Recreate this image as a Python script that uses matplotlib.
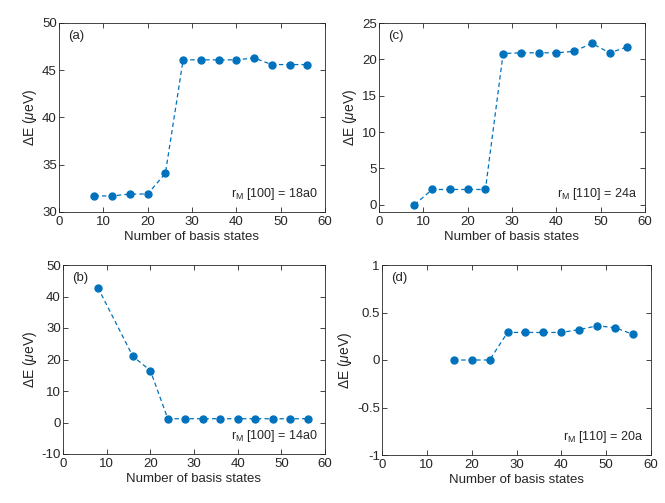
import matplotlib.pyplot as plt

plt.rcParams['font.family'] = ['Liberation Sans', 'DejaVu Sans']
plt.rcParams['mathtext.fontset'] = 'custom'
plt.rcParams['mathtext.rm'] = 'Liberation Sans'
plt.rcParams['mathtext.it'] = 'Liberation Sans:italic'

# basis-state counts and energy splittings for each panel
x_a = [8, 12, 16, 20, 24, 28, 32, 36, 40, 44, 48, 52, 56]
y_a = [31.7, 31.7, 31.9, 31.9, 34.1, 46.1, 46.1, 46.1, 46.1, 46.3, 45.6, 45.6, 45.6]

x_c = [8, 12, 16, 20, 24, 28, 32, 36, 40, 44, 48, 52, 56]
y_c = [0.0, 2.1, 2.1, 2.1, 2.1, 20.8, 20.9, 20.9, 20.9, 21.1, 22.2, 20.9, 21.7]

x_b = [8, 16, 20, 24, 28, 32, 36, 40, 44, 48, 52, 56]
y_b = [42.8, 21.0, 16.5, 1.2, 1.2, 1.2, 1.2, 1.2, 1.2, 1.2, 1.2, 1.2]

x_d = [16, 20, 24, 28, 32, 36, 40, 44, 48, 52, 56]
y_d = [0.0, 0.0, 0.0, 0.29, 0.29, 0.29, 0.29, 0.32, 0.36, 0.34, 0.27]

W, H = 665, 503
fig = plt.figure(figsize=(W / 100, H / 100), dpi=100)

def box(l, t, r, b):
    return [l / W, 1 - b / H, (r - l) / W, (b - t) / H]

panels = [
    (box(59, 23, 325, 212), x_a, y_a, (30, 50), [30, 35, 40, 45, 50], '(a)', '$\\mathregular{r_M}$ [100] = 18a0'),
    (box(379, 23, 645, 212), x_c, y_c, (-1, 25), [0, 5, 10, 15, 20, 25], '(c)', '$\\mathregular{r_M}$ [110] = 24a'),
    (box(63, 265, 325, 454), x_b, y_b, (-10, 50), [-10, 0, 10, 20, 30, 40, 50], '(b)', '$\\mathregular{r_M}$ [100] = 14a0'),
    (box(382, 265, 651, 455), x_d, y_d, (-1, 1), [-1, -0.5, 0, 0.5, 1], '(d)', '$\\mathregular{r_M}$ [110] = 20a'),
]

edge = '#262626'
for rect, xs, ys, ylim, yt, lab, note in panels:
    ax = fig.add_axes(rect)
    ax.plot(xs, ys, '--o', color='#0072BD', lw=0.9, markersize=5, dashes=(3.5, 2.5))
    ax.set_xlim(0, 60)
    ax.set_ylim(*ylim)
    ax.set_xticks([0, 10, 20, 30, 40, 50, 60])
    ax.set_yticks(yt)
    ax.set_yticklabels([('%g' % v) for v in yt])
    ax.tick_params(direction='in', top=True, right=True, labelsize=9.5, colors=edge,
                   length=3.5, width=0.6)
    ax.tick_params(axis='y', pad=1.5)
    ax.tick_params(axis='x', pad=3)
    for s in ax.spines.values():
        s.set_color(edge)
        s.set_linewidth(0.6)
    ax.set_xlabel('Number of basis states', fontsize=9.5, color=edge, labelpad=2)
    ax.set_ylabel('$\\mathregular{\\Delta}$E ($\\mu$eV)', fontsize=10, color=edge, labelpad=2)
    ax.text(0.034, 0.965, lab, transform=ax.transAxes, fontsize=9.5, color=edge, va='top')
    ax.text(0.972, 0.08, note, transform=ax.transAxes, fontsize=9, color=edge, ha='right',
            va='baseline')

fig.savefig('out.png', dpi=100)
